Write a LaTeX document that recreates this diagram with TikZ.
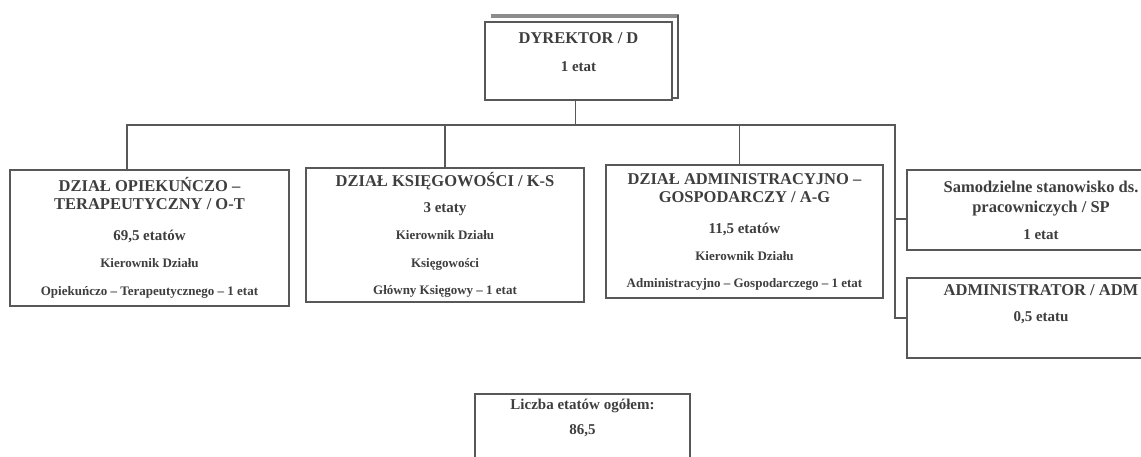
\documentclass[tikz,border=0pt]{standalone}
\usepackage{fontspec}
\setmainfont{Liberation Serif}
\definecolor{ln}{RGB}{88,88,88}
\definecolor{tx}{RGB}{62,62,62}
\definecolor{shd}{RGB}{140,140,140}
\newcommand\hdf{\fontsize{16.5}{18}\selectfont\bfseries}
\newcommand\ctf{\fontsize{15}{18}\selectfont\bfseries}
\newcommand\smf{\fontsize{13}{18}\selectfont\bfseries}
\begin{document}
\begin{tikzpicture}[x=1pt,y=-1pt,
  box/.style={draw=ln, line width=1.6pt, align=center, text=tx, inner sep=4pt,
    font=\fontsize{15}{18}\selectfont\bfseries},
  conn/.style={draw=ln, line width=1.6pt}]
\useasboundingbox[fill=white] (0,0) rectangle (1141,457);

% director
\draw[shd, line width=4.5pt] (491,16) -- (679,16);
\draw[ln, line width=1.3pt] (678,15) -- (678,98) -- (672,98);
\node[box, minimum width=187pt, minimum height=78pt, text depth=18pt] (D) at (578.5,61)
  {\hdf DYREKTOR / D\\[10pt]\ctf 1 etat};

% departments
\node[box, minimum width=279pt, minimum height=136pt] (B1) at (149.5,238)
  {\hdf DZIAŁ OPIEKUŃCZO –\\\hdf TERAPEUTYCZNY / O-T\\[13pt]
   \ctf 69,5 etatów\\[9pt]
   \smf Kierownik Działu\\[10pt]
   \smf Opiekuńczo – Terapeutycznego – 1 etat};
\node[box, minimum width=278pt, minimum height=134pt] (B2) at (445,235)
  {\hdf DZIAŁ KSIĘGOWOŚCI / K-S\\[8pt]
   \ctf 3 etaty\\[9pt]
   \smf Kierownik Działu\\[10pt]
   \smf Księgowości\\[9pt]
   \smf Główny Księgowy – 1 etat};
\node[box, minimum width=277pt, minimum height=133pt] (B3) at (744.5,231.5)
  {\hdf DZIAŁ ADMINISTRACYJNO –\\\hdf GOSPODARCZY / A-G\\[13pt]
   \ctf 11,5 etatów\\[9pt]
   \smf Kierownik Działu\\[9pt]
   \smf Administracyjno – Gospodarczego – 1 etat};
\node[box, minimum width=268pt, minimum height=80pt] (SP) at (1041,210)
  {\hdf Samodzielne stanowisko ds.\\[2pt]\hdf pracowniczych / SP\\[9pt]\ctf 1 etat};
\node[box, minimum width=268pt, minimum height=80pt, text depth=29pt] (ADM) at (1041,318)
  {\hdf ADMINISTRATOR / ADM\\[8pt]\ctf 0,5 etatu};

% total
\node[box, anchor=north, minimum width=215pt, text depth=48pt, inner sep=5pt] (L) at (582.5,393)
  {\ctf Liczba etatów ogółem:\\[7pt]\ctf 86,5};

% connectors
\coordinate (bl) at (127,125);
\coordinate (br) at (895,125);
\coordinate (b3) at ([xshift=-5pt]B3.north);
\coordinate (spj) at ([yshift=-9pt]SP.west);
\draw[conn] ([xshift=-3pt]D.south) -- ([xshift=-3pt]D.south |- bl);
\draw[conn] (bl |- B1.north) -- (bl) -- (br) -- (br |- ADM.west) -- (ADM.west);
\draw[conn] (B2.north) -- (B2.north |- bl);
\draw[conn] (b3) -- (b3 |- bl);
\draw[conn] (br |- spj) -- (spj);
\end{tikzpicture}
\end{document}
